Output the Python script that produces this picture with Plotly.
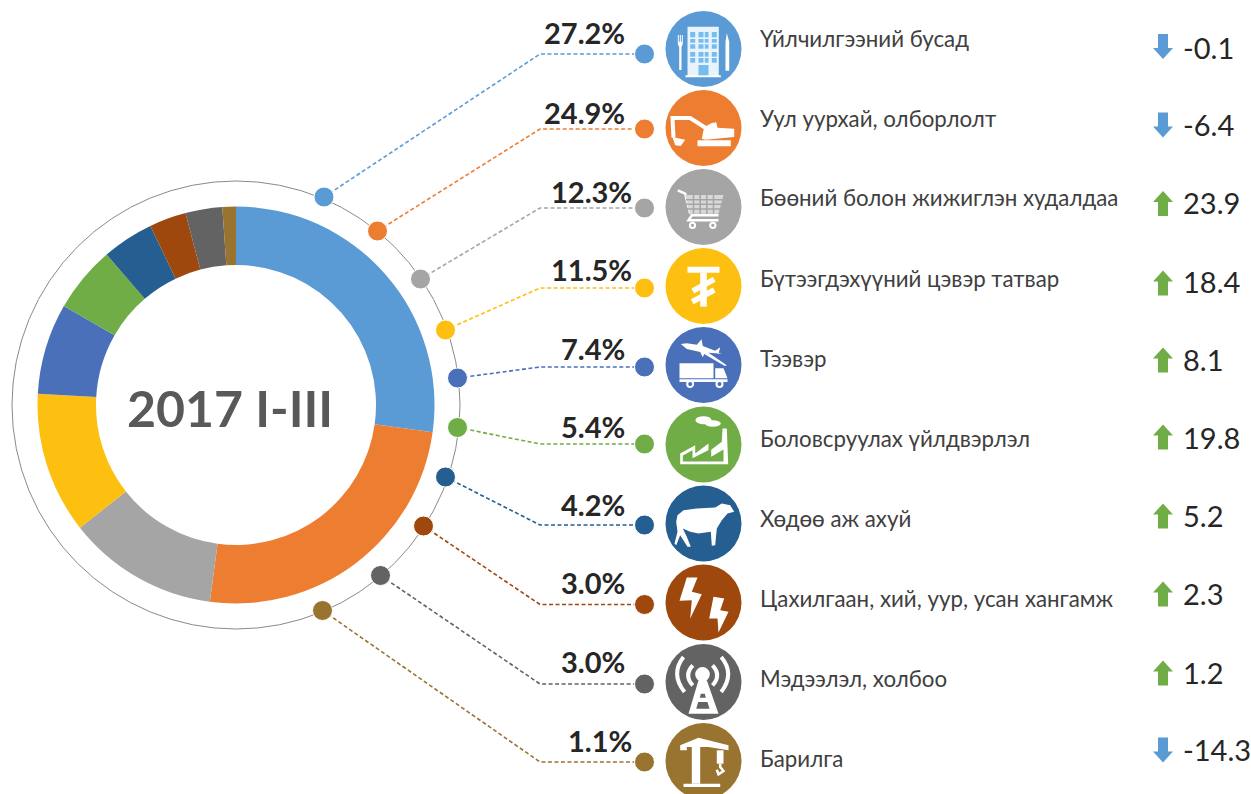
import plotly.graph_objects as go

# ---------- data ----------
categories = ["Үйлчилгээний бусад", "Уул уурхай, олборлолт", "Бөөний болон жижиглэн худалдаа",
              "Бүтээгдэхүүний цэвэр татвар", "Тээвэр", "Боловсруулах үйлдвэрлэл", "Хөдөө аж ахуй",
              "Цахилгаан, хий, уур, усан хангамж", "Мэдээлэл, холбоо", "Барилга"]
shares = [27.2, 24.9, 12.3, 11.5, 7.4, 5.4, 4.2, 3.0, 3.0, 1.1]
changes = [-0.1, -6.4, 23.9, 18.4, 8.1, 19.8, 5.2, 2.3, 1.2, -14.3]
colors = ["#5B9BD5", "#ED7D31", "#A5A5A5", "#FEC010", "#4A70B9", "#70AD47", "#255E91", "#9E480E", "#636363", "#997330"]
center_title = "2017 I-III"

# ---------- layout geometry (page pixels) ----------
W, H = 1251, 794
FONT = "Lato"
cx, cy, r_out, r_in, r_ring = 236, 405, 198.5, 140, 224
ring_x = [324, 377.5, 420.5, 445.5, 457.5, 457.5, 445.5, 423.5, 380.5, 322.5]
ring_y = [197, 231, 279, 330, 378, 427.5, 477, 526, 575.5, 610.5]
elbow_x = 540
dot_x = 644.5
dot_y = [54, 129, 208, 288, 367, 444, 525, 604.5, 684, 762]
icon_x = 703.5
icon_y = [49, 128, 207, 286, 365, 444.5, 523.5, 602.5, 682, 761]
pct_right = [627, 627, 634, 634, 627, 627, 627, 627, 627, 634]
pct_y = [32, 112, 191, 269, 348, 426, 504, 582, 661, 740]
label_y = [38, 118, 197, 278, 358, 438, 518, 598, 678, 758]
arrow_x = 1163
arrow_y = [46.5, 125, 203.5, 283, 360, 437, 516, 594, 673, 750]
value_y = [47, 124, 202, 281, 359, 437, 515, 593, 672, 749]

fig = go.Figure()

# connectors
for i, c in enumerate(colors):
    fig.add_trace(go.Scatter(x=[ring_x[i], elbow_x, dot_x], y=[ring_y[i], dot_y[i], dot_y[i]],
                             mode="lines", line=dict(color=c, width=1.6, dash="4px,2.5px"),
                             hoverinfo="skip", showlegend=False))
# dots
fig.add_trace(go.Scatter(x=ring_x, y=ring_y, mode="markers",
                         marker=dict(size=20, color=colors, line=dict(color="white", width=1)),
                         hoverinfo="skip", showlegend=False))
fig.add_trace(go.Scatter(x=[dot_x] * 10, y=dot_y, mode="markers",
                         marker=dict(size=20, color=colors, line=dict(color="white", width=1)),
                         hoverinfo="skip", showlegend=False))
# icon discs
fig.add_trace(go.Scatter(x=[icon_x] * 10, y=icon_y, mode="markers",
                         marker=dict(size=76, color=colors, line=dict(width=0)),
                         hoverinfo="skip", showlegend=False))
# donut
fig.add_trace(go.Pie(values=shares, labels=categories, sort=False, direction="clockwise", rotation=0,
                     hole=r_in / r_out, textinfo="none", showlegend=False,
                     marker=dict(colors=colors, line=dict(width=0)),
                     domain=dict(x=[(cx - r_out) / W, (cx + r_out) / W],
                                 y=[1 - (cy + r_out) / H, 1 - (cy - r_out) / H])))

shapes = [dict(type="circle", xref="x", yref="y", x0=cx - r_ring, x1=cx + r_ring, y0=cy - r_ring, y1=cy + r_ring,
               line=dict(color="#8a8a8a", width=1), layer="below")]


# ---------- icon helpers: coordinates are zoom-crop units (3 per px) around the disc centre ----------
def P(i, x, y, ox, oy):
    return icon_x + (x - ox) / 3, icon_y[i] + (y - oy) / 3


def poly(i, o, pts, fill="white"):
    s = "M" + " L".join("%.1f,%.1f" % P(i, x, y, *o) for x, y in pts) + " Z"
    shapes.append(dict(type="path", path=s, xref="x", yref="y", fillcolor=fill, line=dict(width=0), layer="above"))


def rect(i, o, x0, y0, x1, y1, fill="white"):
    poly(i, o, [(x0, y0), (x1, y0), (x1, y1), (x0, y1)], fill)


def stroke(i, o, pts, w, color="white", curve=False):
    q = ["%.1f,%.1f" % P(i, x, y, *o) for x, y in pts]
    s = "M" + q[0] + (" Q" + " ".join(q[1:]) if curve else " L" + " L".join(q[1:]))
    shapes.append(dict(type="path", path=s, xref="x", yref="y", line=dict(color=color, width=w), layer="above"))


def disc(i, o, x, y, rx, fill="white", ry=None, line=None):
    ry = ry or rx
    x0, y0 = P(i, x - rx, y - ry, *o)
    x1, y1 = P(i, x + rx, y + ry, *o)
    shapes.append(dict(type="circle", xref="x", yref="y", x0=x0, x1=x1, y0=y0, y1=y1, fillcolor=fill,
                       line=dict(width=line or 0, color="white"), layer="above"))


# hotel
o = (190, 147)
rect(0, o, 142, 80, 236, 228, "#E8F3FB")
rect(0, o, 136, 226, 242, 232)
for row_y in [(96, 112), (117, 128), (133, 146), (156, 170), (174, 188)]:
    for col_x in [(150, 165), (175, 190), (194, 205), (215, 230)]:
        rect(0, o, col_x[0], row_y[0], col_x[1], row_y[1], "#74BDEE")
rect(0, o, 175, 195, 205, 226, "#74BDEE")
poly(0, o, [(113, 105), (116, 105), (116, 125), (119, 125), (119, 105), (122, 105), (122, 125), (125, 125), (125, 105),
            (128, 105), (128, 132), (124, 142), (124, 210), (117, 210), (117, 142), (113, 132)])
poly(0, o, [(260, 100), (267, 125), (267, 212), (256, 212), (256, 125)])
# excavator
o = (190, 383)
rect(1, o, 172, 420, 272, 438)
poly(1, o, [(185, 415), (192, 380), (215, 368), (228, 366), (232, 382), (282, 385), (282, 410), (195, 418)])
stroke(1, o, [(205, 388), (150, 353), (97, 353), (100, 412)], 4)
poly(1, o, [(97, 410), (135, 418), (122, 437), (105, 435)])
# cart
o = (190, 620)
stroke(2, o, [(113, 570), (135, 580), (150, 640)], 2.5)
poly(2, o, [(135, 584), (250, 584), (235, 640), (148, 640)], "#D8D8D8")
for gx in [160, 180, 200, 220]:
    stroke(2, o, [(gx, 584), (gx, 640)], 1.5, "#A5A5A5")
for gy in [598, 612, 626]:
    stroke(2, o, [(138, gy), (246, gy)], 1.5, "#A5A5A5")
stroke(2, o, [(235, 645), (155, 645), (145, 660), (235, 660)], 2.5)
disc(2, o, 157, 675, 8, "#A5A5A5", line=2)
disc(2, o, 218, 675, 8, "#A5A5A5", line=2)
# tugrik
o = (190, 858)
rect(3, o, 142, 800, 238, 818)
rect(3, o, 180, 818, 200, 920)
stroke(3, o, [(158, 873), (222, 838)], 5.5)
stroke(3, o, [(156, 905), (222, 870)], 5.5)
# plane & truck
o = (190, 1095)
poly(4, o, [(122, 1032), (140, 1030), (170, 1034), (184, 1018), (188, 1038), (225, 1052), (240, 1042), (236, 1058),
            (245, 1062), (225, 1060), (205, 1058), (260, 1096), (254, 1098), (192, 1062), (188, 1072), (180, 1056),
            (140, 1047)])
rect(4, o, 118, 1090, 220, 1135)
poly(4, o, [(225, 1105), (250, 1105), (262, 1135), (225, 1135)])
rect(4, o, 118, 1138, 262, 1146)
disc(4, o, 150, 1152, 9, "#4A70B9", line=2)
disc(4, o, 238, 1152, 9, "#4A70B9", line=2)
# factory
o = (190, 133)
poly(5, o, [(120, 192), (120, 160), (165, 135), (165, 160), (205, 130), (205, 155), (245, 125), (247, 85), (260, 85), (264, 192)])
poly(5, o, [(128, 184), (128, 166), (157, 150), (157, 174), (213, 146), (213, 170), (250, 148), (250, 184)], "#70AD47")
disc(5, o, 190, 60, 24, ry=12)
disc(5, o, 218, 70, 24, ry=10)
# sheep
o = (190, 370)
poly(6, o, [(112, 345), (130, 330), (170, 325), (225, 322), (245, 310), (270, 315), (282, 335), (262, 340), (245, 360),
            (230, 385), (225, 435), (215, 437), (212, 395), (175, 400), (150, 395), (128, 385), (140, 410), (152, 440),
            (142, 440), (120, 405), (108, 435), (103, 430), (112, 395), (108, 365)])
# bolts
o = (190, 607)
poly(7, o, [(140, 532), (172, 532), (155, 575), (185, 582), (150, 655), (155, 600), (118, 602)])
poly(7, o, [(220, 590), (252, 595), (240, 630), (265, 635), (235, 697), (232, 655), (207, 655)])
# tower
o = (190, 845)
disc(8, o, 187, 822, 22)
poly(8, o, [(175, 840), (200, 840), (235, 940), (145, 940)])
poly(8, o, [(182, 880), (194, 880), (197, 892), (179, 892)], "#636363")
poly(8, o, [(174, 905), (202, 905), (208, 925), (168, 925)], "#636363")
stroke(8, o, [(130, 770), (90, 820), (133, 875)], 4, curve=True)
stroke(8, o, [(158, 795), (130, 825), (158, 855)], 4, curve=True)
stroke(8, o, [(243, 770), (285, 820), (243, 875)], 4, curve=True)
stroke(8, o, [(217, 795), (245, 825), (217, 855)], 4, curve=True)
# crane
o = (190, 1082)
rect(9, o, 130, 1150, 240, 1160)
rect(9, o, 155, 1030, 180, 1150)
poly(9, o, [(120, 1050), (120, 1035), (175, 1012), (265, 1035), (265, 1050), (205, 1040), (140, 1040), (140, 1050)])
rect(9, o, 230, 1050, 250, 1090)
stroke(9, o, [(240, 1090), (240, 1100), (250, 1112), (235, 1122), (230, 1108)], 2.5)

# ---------- arrows, from the sign of each value ----------
for i, v in enumerate(changes):
    c = "#5B9BD5" if v < 0 else "#70AD47"
    s = -1 if v < 0 else 1
    ax, ay = arrow_x, arrow_y[i]
    pts = [(ax, ay - s * 12.5), (ax + 10, ay - s * 1.5), (ax + 5, ay - s * 1.5), (ax + 5, ay + s * 12.5),
           (ax - 5, ay + s * 12.5), (ax - 5, ay - s * 1.5), (ax - 10, ay - s * 1.5)]
    shapes.append(dict(type="path", path="M" + " L".join("%.1f,%.1f" % p for p in pts) + " Z", xref="x", yref="y",
                       fillcolor=c, line=dict(width=0), layer="above"))

# ---------- text ----------
ann = [dict(x=230, y=408, text="<b>%s</b>" % center_title, showarrow=False, xanchor="center", yanchor="middle",
            font=dict(family=FONT, size=50, color="#595959"))]
for i in range(10):
    ann.append(dict(x=pct_right[i], y=pct_y[i], text="<b>%.1f%%</b>" % shares[i], showarrow=False, xanchor="right",
                    yanchor="middle", font=dict(family=FONT, size=29, color="#262626")))
    ann.append(dict(x=758, y=label_y[i], text=categories[i], showarrow=False, xanchor="left", yanchor="middle",
                    font=dict(family=FONT, size=22.3, color="#404040")))
    ann.append(dict(x=1181, y=value_y[i], text="%.1f" % changes[i], showarrow=False, xanchor="left", yanchor="middle",
                    font=dict(family=FONT, size=29, color="#262626")))

fig.update_layout(width=W, height=H, margin=dict(l=0, r=0, t=0, b=0, pad=0), paper_bgcolor="white", plot_bgcolor="white",
                  xaxis=dict(range=[0, W], visible=False, fixedrange=True),
                  yaxis=dict(range=[H, 0], visible=False, fixedrange=True),
                  shapes=shapes, annotations=ann, showlegend=False)
fig.write_html("out.html", config=dict(displayModeBar=False),
               post_script="document.body.style.margin='0';")
